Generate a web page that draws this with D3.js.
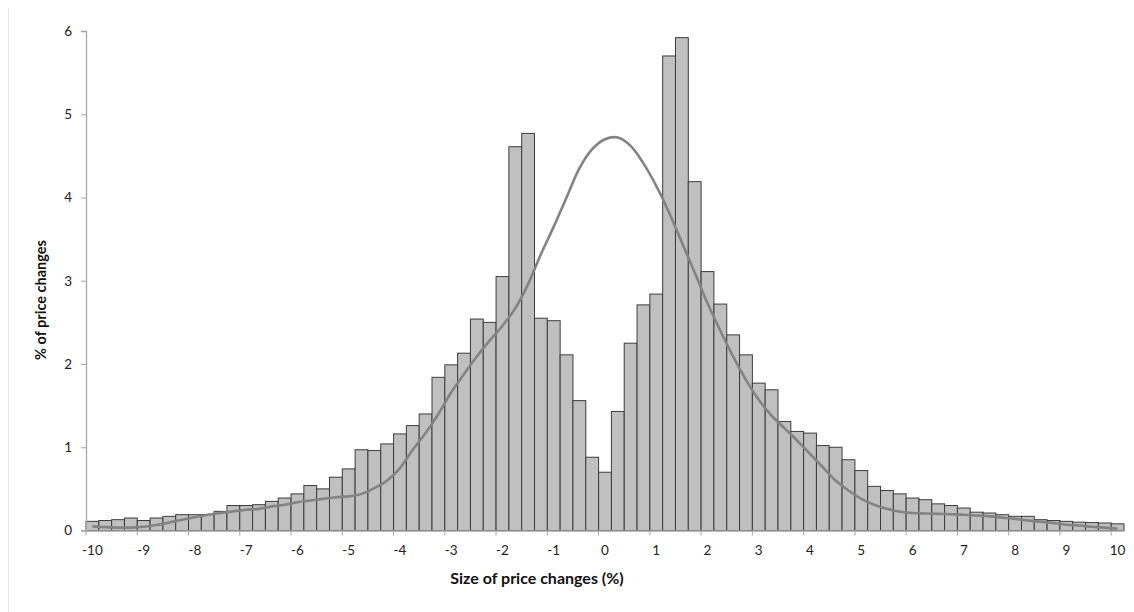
<!DOCTYPE html>
<html>
<head>
<meta charset="utf-8">
<script src="https://cdn.jsdelivr.net/npm/d3@7"></script>
<style>
  html, body { margin: 0; padding: 0; background: #fff; }
  svg { display: block; }
  text { font-family: Lato, "Open Sans", sans-serif; }
</style>
</head>
<body>
<svg id="chart" width="1134" height="612"></svg>
<script>
const categories = [-10,-9.75,-9.5,-9.25,-9,-8.75,-8.5,-8.25,-8,-7.75,-7.5,-7.25,-7,-6.75,-6.5,-6.25,
  -6,-5.75,-5.5,-5.25,-5,-4.75,-4.5,-4.25,-4,-3.75,-3.5,-3.25,-3,-2.75,-2.5,-2.25,
  -2,-1.75,-1.5,-1.25,-1,-0.75,-0.5,-0.25,0,0.25,0.5,0.75,1,1.25,1.5,1.75,
  2,2.25,2.5,2.75,3,3.25,3.5,3.75,4,4.25,4.5,4.75,5,5.25,5.5,5.75,
  6,6.25,6.5,6.75,7,7.25,7.5,7.75,8,8.25,8.5,8.75,9,9.25,9.5,9.75,10];

const barValues = [0.11,0.12,0.13,0.15,0.12,0.15,0.17,0.19,0.19,0.19,0.23,0.30,0.30,0.31,0.35,0.39,
  0.44,0.54,0.50,0.64,0.74,0.97,0.96,1.04,1.16,1.26,1.40,1.84,1.99,2.13,2.54,2.50,
  3.05,4.61,4.77,2.55,2.52,2.11,1.56,0.88,0.70,1.43,2.25,2.71,2.84,5.70,5.92,4.19,
  3.11,2.72,2.35,2.11,1.77,1.69,1.31,1.19,1.17,1.02,1.00,0.85,0.72,0.53,0.48,0.44,
  0.39,0.37,0.32,0.30,0.27,0.22,0.21,0.19,0.17,0.17,0.13,0.12,0.11,0.10,0.095,0.09,0.08];

const curveValues = [0.05,0.04,0.035,0.035,0.045,0.065,0.095,0.13,0.16,0.19,0.21,0.23,0.25,0.26,0.29,0.31,
  0.34,0.36,0.38,0.40,0.41,0.44,0.51,0.60,0.75,0.97,1.17,1.40,1.66,1.88,2.09,2.28,
  2.46,2.67,2.96,3.32,3.65,4.00,4.35,4.58,4.70,4.72,4.62,4.41,4.14,3.82,3.46,3.10,
  2.73,2.40,2.09,1.81,1.57,1.38,1.23,1.08,0.92,0.76,0.60,0.48,0.38,0.31,0.26,0.225,
  0.21,0.205,0.20,0.195,0.19,0.18,0.17,0.155,0.14,0.12,0.105,0.09,0.07,0.06,0.045,0.035,0.02];

const xTickLabels = [-10,-9,-8,-7,-6,-5,-4,-3,-2,-1,0,1,2,3,4,5,6,7,8,9,10];
const yTickValues = [0,1,2,3,4,5,6];

const svg = d3.select("#chart");

// faint left border line
svg.append("line").attr("x1", 8.5).attr("x2", 8.5).attr("y1", 8).attr("y2", 612)
  .attr("stroke", "#e4e4e4").attr("stroke-width", 1);

const x = d3.scaleBand().domain(categories).range([86, 1124]).padding(0);
const y = d3.scaleLinear().domain([0, 6]).range([530.5, 31]);
const bw = x.bandwidth();

// bars
svg.append("g").selectAll("rect").data(categories).join("rect")
  .attr("x", d => x(d))
  .attr("y", (d, i) => y(barValues[i]))
  .attr("width", bw)
  .attr("height", (d, i) => y(0) - y(barValues[i]))
  .attr("fill", "#c0c0c0")
  .attr("stroke", "#3c3c3c")
  .attr("stroke-width", 1);

// curve
const line = d3.line()
  .x((d, i) => x(categories[i]) + bw / 2)
  .y(d => y(d))
  .curve(d3.curveCatmullRom.alpha(0.5));
svg.append("path").datum(curveValues)
  .attr("d", line)
  .attr("fill", "none")
  .attr("stroke", "#838383")
  .attr("stroke-width", 2.6)
  .attr("stroke-linejoin", "round");

// y axis
const yAxis = d3.axisLeft(y).tickValues(yTickValues).tickSize(5).tickPadding(9)
  .tickFormat(d3.format("d"));
const gy = svg.append("g").attr("transform", "translate(86,0)").call(yAxis);
gy.select(".domain").attr("stroke", "#a6a6a6").attr("stroke-width", 1.3);
gy.selectAll(".tick line").attr("stroke", "#a6a6a6");
gy.selectAll(".tick text").attr("fill", "#222").attr("font-size", 13.5)
  .style("font-family", "Lato, 'Open Sans', sans-serif");

// x axis
const xAxis = d3.axisBottom(x).tickValues(xTickLabels).tickSize(5).tickPadding(10)
  .tickSizeOuter(0).tickFormat(d => String(d));
const gx = svg.append("g").attr("transform", "translate(0,530.5)").call(xAxis);
gx.select(".domain").attr("stroke", "#a6a6a6").attr("stroke-width", 1.3);
gx.selectAll(".tick line").attr("stroke", "#a6a6a6").attr("x1", -bw / 2).attr("x2", -bw / 2);
gx.selectAll(".tick text").attr("fill", "#222").attr("font-size", 13.5)
  .style("font-family", "Lato, 'Open Sans', sans-serif");

// axis titles
svg.append("text")
  .attr("x", 537).attr("y", 584)
  .attr("text-anchor", "middle")
  .attr("font-size", 16).attr("font-weight", "bold").attr("fill", "#111")
  .text("Size of price changes (%)");

svg.append("text")
  .attr("transform", "translate(46,300) rotate(-90)")
  .attr("text-anchor", "middle")
  .attr("font-size", 14.5).attr("font-weight", "bold").attr("fill", "#111")
  .text("% of price changes");
</script>
</body>
</html>
